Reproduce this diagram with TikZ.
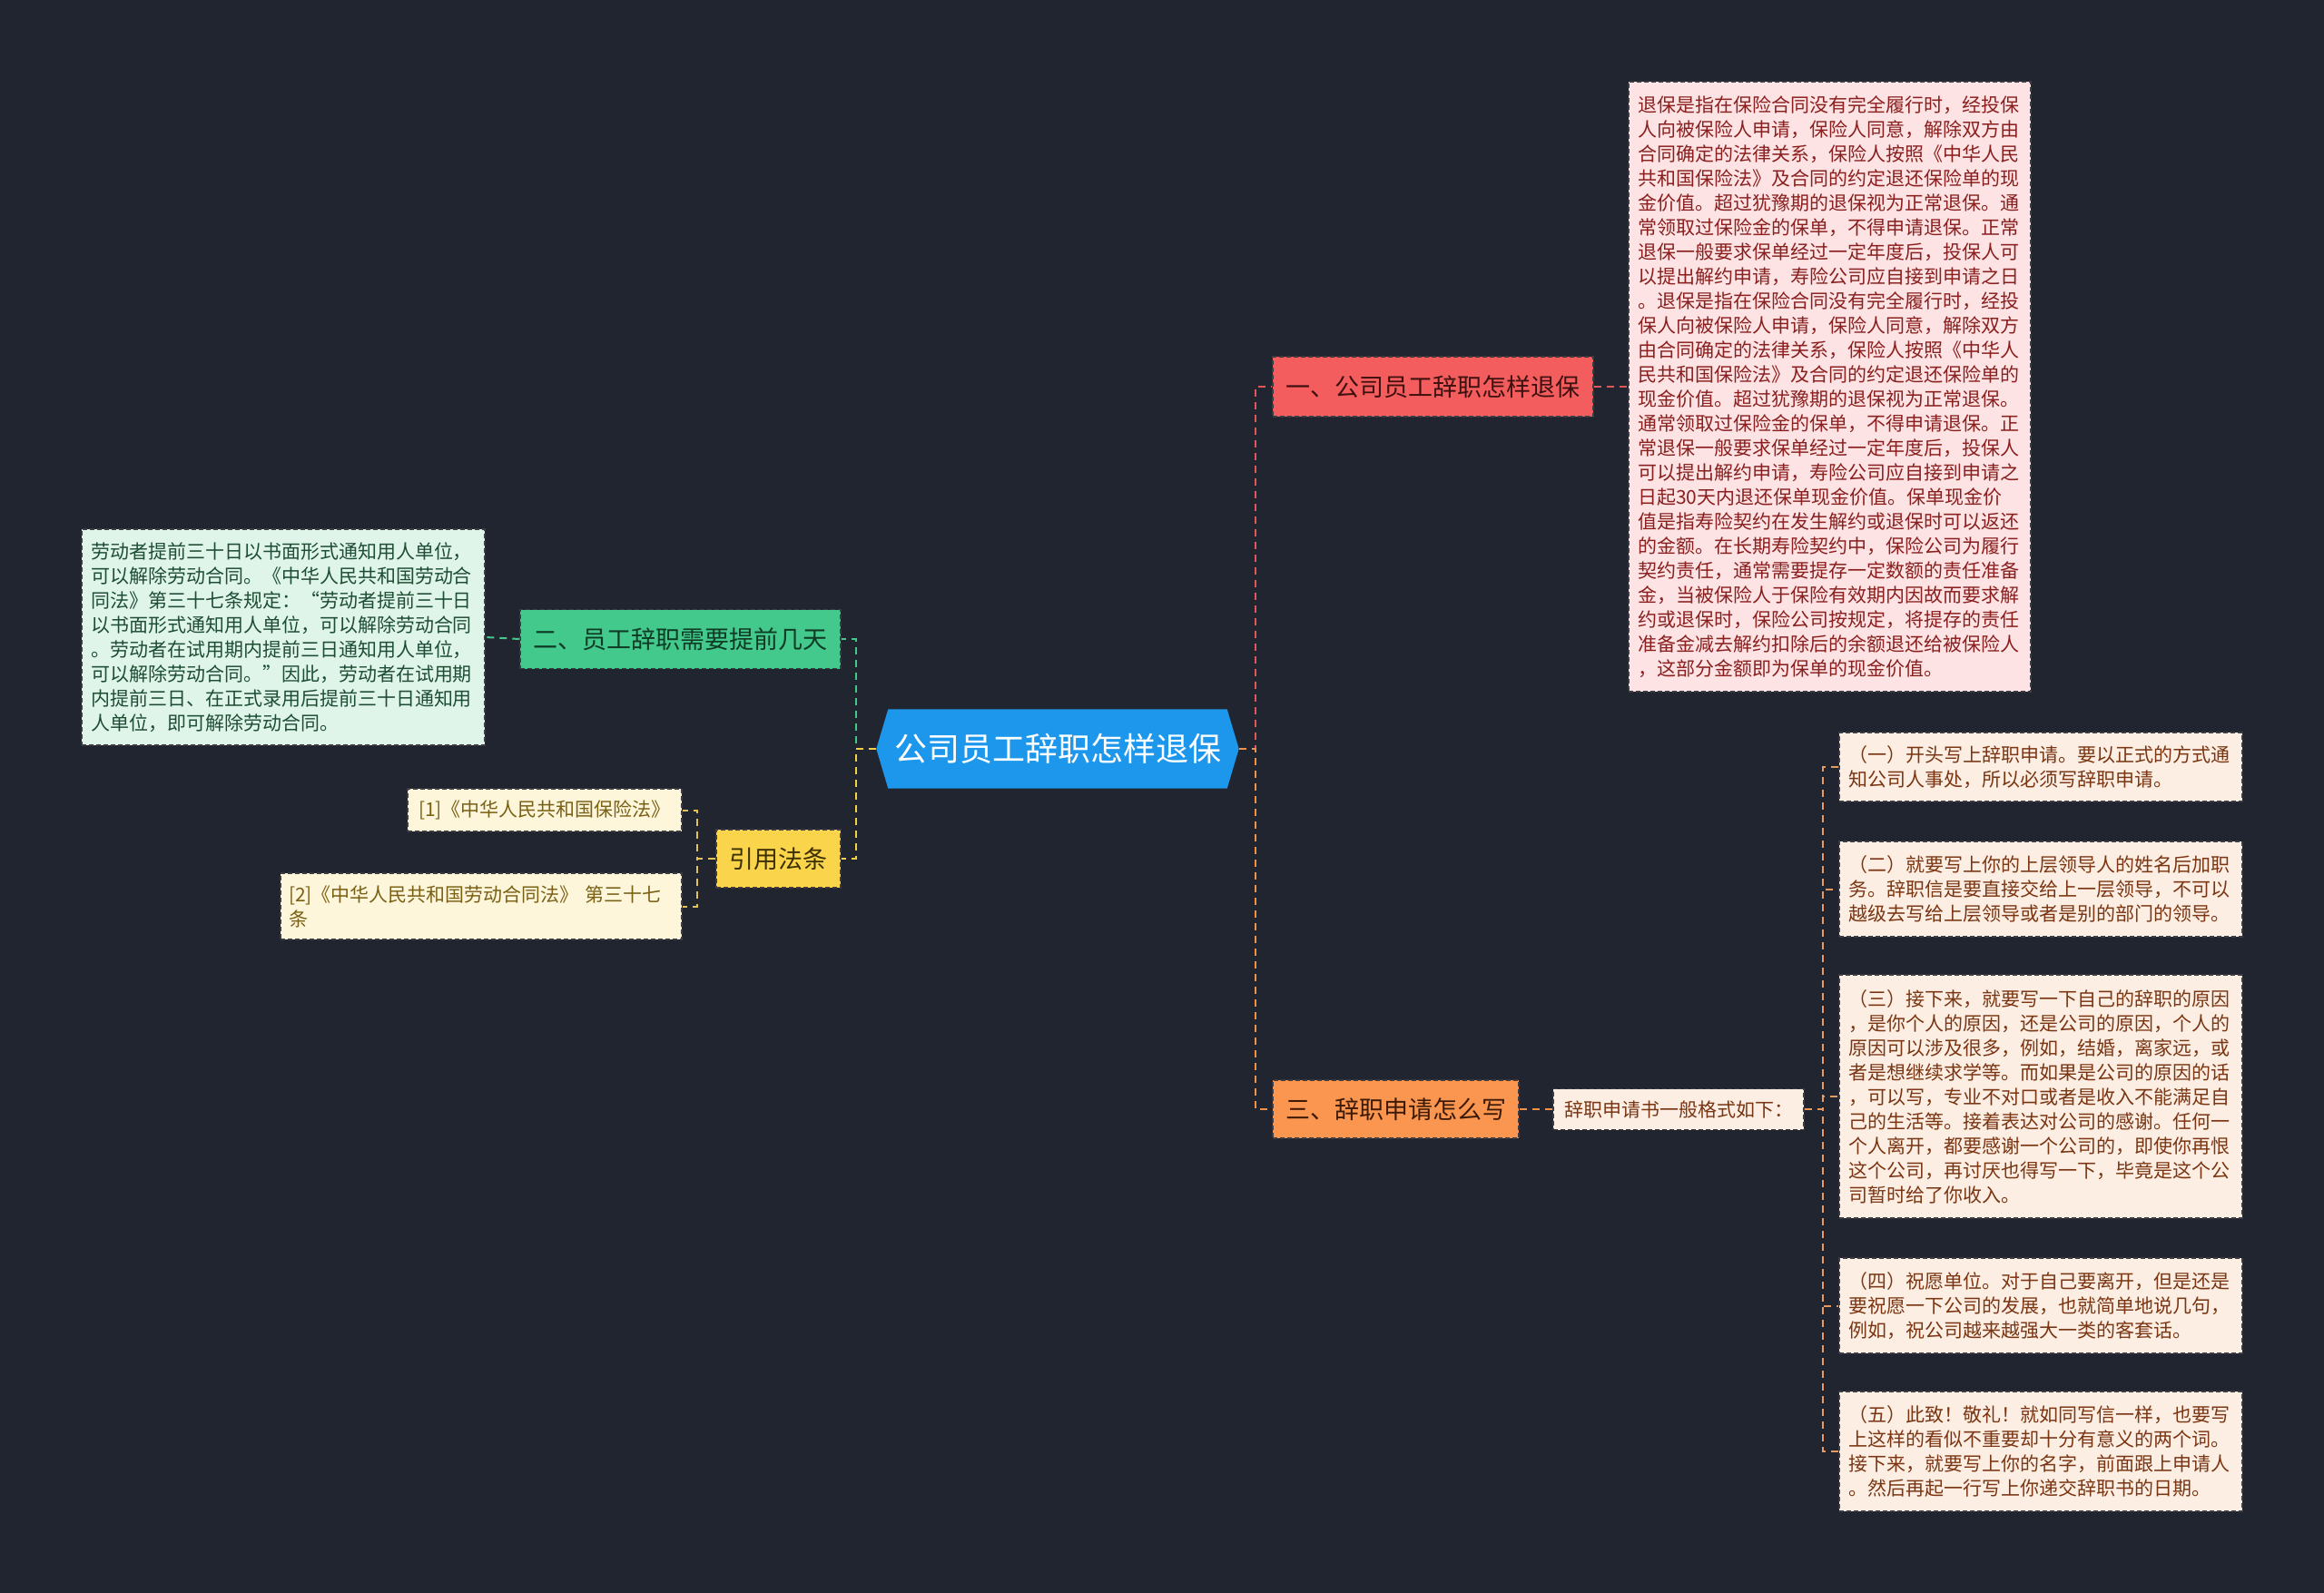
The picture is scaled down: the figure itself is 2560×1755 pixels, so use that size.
\documentclass[tikz,border=0pt]{standalone}
\usepackage{fontspec}
\setmainfont{Noto Sans CJK SC}
\usetikzlibrary{backgrounds}
\definecolor{bg}{HTML}{212530}
\definecolor{rootblue}{HTML}{1C97EC}
\definecolor{edge}{HTML}{3C3B42}
\definecolor{bAfill}{HTML}{F45D5D}\definecolor{bAtext}{HTML}{3E1010}
\definecolor{pkfill}{HTML}{FDE3E3}\definecolor{pktext}{HTML}{8A1F1F}
\definecolor{bBfill}{HTML}{42C98B}\definecolor{bBtext}{HTML}{0F3B26}
\definecolor{gnfill}{HTML}{E0F5EA}\definecolor{gntext}{HTML}{1D4D33}
\definecolor{ylfill}{HTML}{FAD44A}\definecolor{yltext}{HTML}{3D3000}
\definecolor{rffill}{HTML}{FDF6DA}\definecolor{rftext}{HTML}{7A6015}
\definecolor{bCfill}{HTML}{FB9650}\definecolor{bCtext}{HTML}{3D1A05}
\definecolor{orfill}{HTML}{FDEEE3}\definecolor{ortext}{HTML}{7A3512}
\definecolor{cRed}{HTML}{E2585A}
\definecolor{cOrange}{HTML}{F0924A}
\definecolor{cGreen}{HTML}{42C98B}
\definecolor{cYellow}{HTML}{F2D048}
\definecolor{cRef}{HTML}{E3C25A}
\definecolor{cFmt}{HTML}{E69A60}
\tikzset{
  box/.style={rectangle, inner sep=0pt, draw=edge, dash pattern=on 5pt off 3pt, line width=1.5pt, align=center},
  smalltxt/.style={font=\fontsize{21}{27}\selectfont},
  bigtxt/.style={font=\fontsize{27}{32}\selectfont},
  para/.style={box, smalltxt, align=left, inner xsep=10pt},
  con/.style={line width=2pt, dash pattern=on 8pt off 6pt},
}
\begin{document}
\begin{tikzpicture}[x=1pt,y=-1pt]
\begin{scope}[on background layer]
\fill[bg] (0,0) rectangle (2560,1755);
\end{scope}
\useasboundingbox (0,0) rectangle (2560,1755);

% root
\node[rectangle, inner sep=0pt, minimum width=399pt, minimum height=87pt, text=white,
      font=\fontsize{36}{40}\selectfont] (root) at (1165,825) {公司员工辞职怎样退保};
\begin{scope}[on background layer]
\fill[rootblue] (root.west) -- ([xshift=13pt]root.north west) -- ([xshift=-13pt]root.north east)
  -- (root.east) -- ([xshift=-13pt]root.south east) -- ([xshift=13pt]root.south west) -- cycle;
\end{scope}

% branch 1
\node[box, bigtxt, fill=bAfill, text=bAtext, minimum width=353pt, minimum height=66pt] (b1) at (1578.5,426) {一、公司员工辞职怎样退保};
\node[para, fill=pkfill, text=pktext, text width=423pt, minimum height=672pt] (pk) at (2015.5,426) {%
退保是指在保险合同没有完全履行时，经投保\\%
人向被保险人申请，保险人同意，解除双方由\\%
合同确定的法律关系，保险人按照《中华人民\\%
共和国保险法》及合同的约定退还保险单的现\\%
金价值。超过犹豫期的退保视为正常退保。通\\%
常领取过保险金的保单，不得申请退保。正常\\%
退保一般要求保单经过一定年度后，投保人可\\%
以提出解约申请，寿险公司应自接到申请之日\\%
。退保是指在保险合同没有完全履行时，经投\\%
保人向被保险人申请，保险人同意，解除双方\\%
由合同确定的法律关系，保险人按照《中华人\\%
民共和国保险法》及合同的约定退还保险单的\\%
现金价值。超过犹豫期的退保视为正常退保。\\%
通常领取过保险金的保单，不得申请退保。正\\%
常退保一般要求保单经过一定年度后，投保人\\%
可以提出解约申请，寿险公司应自接到申请之\\%
日起30天内退还保单现金价值。保单现金价\\%
值是指寿险契约在发生解约或退保时可以返还\\%
的金额。在长期寿险契约中，保险公司为履行\\%
契约责任，通常需要提存一定数额的责任准备\\%
金，当被保险人于保险有效期内因故而要求解\\%
约或退保时，保险公司按规定，将提存的责任\\%
准备金减去解约扣除后的余额退还给被保险人\\%
，这部分金额即为保单的现金价值。};

% branch 2
\node[box, bigtxt, fill=bBfill, text=bBtext, minimum width=353pt, minimum height=65pt] (b2) at (749.5,704) {二、员工辞职需要提前几天};
\node[para, fill=gnfill, text=gntext, text width=424pt, minimum height=238pt] (gn) at (312,702) {%
劳动者提前三十日以书面形式通知用人单位，\\%
可以解除劳动合同。《中华人民共和国劳动合\\%
同法》第三十七条规定：“劳动者提前三十日\\%
以书面形式通知用人单位，可以解除劳动合同\\%
。劳动者在试用期内提前三日通知用人单位，\\%
可以解除劳动合同。”因此，劳动者在试用期\\%
内提前三日、在正式录用后提前三十日通知用\\%
人单位，即可解除劳动合同。};

% references
\node[box, bigtxt, fill=ylfill, text=yltext, minimum width=137pt, minimum height=64pt] (yl) at (857.5,946) {引用法条};
\node[box, smalltxt, fill=rffill, text=rftext, minimum width=302pt, minimum height=47pt] (rf1) at (600,892.5) {[1]《中华人民共和国保险法》};
\node[para, fill=rffill, text=rftext, inner xsep=9pt, text width=424pt, minimum height=73pt] (rf2) at (530,998.5) {%
[2]《中华人民共和国劳动合同法》 第三十七\\%
条};

% branch 3
\node[box, bigtxt, fill=bCfill, text=bCtext, minimum width=271pt, minimum height=64pt] (b3) at (1537.5,1222) {三、辞职申请怎么写};
\node[box, smalltxt, fill=orfill, text=ortext, minimum width=276pt, minimum height=45pt] (fmt) at (1849,1222) {辞职申请书一般格式如下：};

\node[para, fill=orfill, text=ortext, text width=424pt, minimum height=76pt] (r1) at (2248,845) {%
（一）开头写上辞职申请。要以正式的方式通\\%
知公司人事处，所以必须写辞职申请。};
\node[para, fill=orfill, text=ortext, text width=424pt, minimum height=105pt] (r2) at (2248,979.5) {%
（二）就要写上你的上层领导人的姓名后加职\\%
务。辞职信是要直接交给上一层领导，不可以\\%
越级去写给上层领导或者是别的部门的领导。};
\node[para, fill=orfill, text=ortext, text width=424pt, minimum height=268pt] (r3) at (2248,1208) {%
（三）接下来，就要写一下自己的辞职的原因\\%
，是你个人的原因，还是公司的原因，个人的\\%
原因可以涉及很多，例如，结婚，离家远，或\\%
者是想继续求学等。而如果是公司的原因的话\\%
，可以写，专业不对口或者是收入不能满足自\\%
己的生活等。接着表达对公司的感谢。任何一\\%
个人离开，都要感谢一个公司的，即使你再恨\\%
这个公司，再讨厌也得写一下，毕竟是这个公\\%
司暂时给了你收入。};
\node[para, fill=orfill, text=ortext, text width=424pt, minimum height=105pt] (r4) at (2248,1438.5) {%
（四）祝愿单位。对于自己要离开，但是还是\\%
要祝愿一下公司的发展，也就简单地说几句，\\%
例如，祝公司越来越强大一类的客套话。};
\node[para, fill=orfill, text=ortext, text width=424pt, minimum height=132pt] (r5) at (2248,1599) {%
（五）此致！敬礼！就如同写信一样，也要写\\%
上这样的看似不重要却十分有意义的两个词。\\%
接下来，就要写上你的名字，前面跟上申请人\\%
。然后再起一行写上你递交辞职书的日期。};

% connectors
\draw[con, cRed] (root.east) -- ++(18,0) |- (b1.west);
\draw[con, cOrange] (root.east) -- ++(18,0) |- (b3.west);
\draw[con, cGreen] (root.west) -- ++(-22,0) |- (b2.east);
\draw[con, cYellow] (root.west) -- ++(-22,0) |- (yl.east);
\draw[con, cRed] (b1.east) -- (pk.west);
\draw[con, cGreen] (b2.west) -- (gn.east);
\draw[con, cRef] (yl.west) -- ++(-20,0) |- (rf1.east);
\draw[con, cRef] (yl.west) -- ++(-20,0) |- (rf2.east);
\draw[con, cOrange] (b3.east) -- (fmt.west);
\foreach \r in {r1,r2,r3,r4,r5}{
  \draw[con, cFmt] (fmt.east) -- ++(20,0) |- (\r.west);
}
\end{tikzpicture}
\end{document}
